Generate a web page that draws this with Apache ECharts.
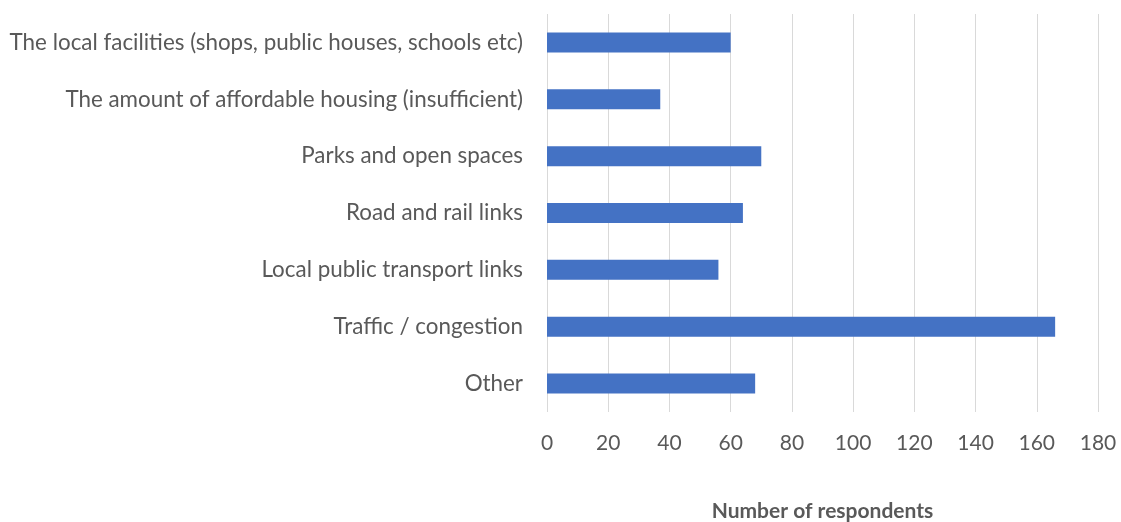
<!DOCTYPE html>
<html>
<head>
<meta charset="utf-8">
<script src="https://cdn.jsdelivr.net/npm/echarts@6/dist/echarts.min.js"></script>
<style>
  html, body { margin: 0; padding: 0; background: #fff; }
  #chart { width: 1121px; height: 522px; }
</style>
</head>
<body>
<div id="chart"></div>
<script>
  var categories = [
    'The local facilities (shops, public houses, schools etc)',
    'The amount of affordable housing (insufficient)',
    'Parks and open spaces',
    'Road and rail links',
    'Local public transport links',
    'Traffic / congestion',
    'Other'
  ];
  var respondents = [60, 37, 70, 64, 56, 166, 68];
  var xTicks = { min: 0, max: 180, step: 20 };

  var chart = echarts.init(document.getElementById('chart'));

  var option = {
    animation: false,
    textStyle: { fontFamily: 'Lato, sans-serif' },
    grid: {
      left: 547,
      right: 23,
      top: 14,
      bottom: 110,
      outerBoundsMode: 'none'
    },
    xAxis: {
      type: 'value',
      min: xTicks.min,
      max: xTicks.max,
      interval: xTicks.step,
      name: 'Number of respondents',
      nameLocation: 'middle',
      nameGap: 89,
      nameTextStyle: {
        fontSize: 21,
        fontWeight: 'bold',
        color: '#595959'
      },
      axisLine: { show: false },
      axisTick: { show: false },
      axisLabel: {
        fontSize: 21,
        color: '#595959',
        margin: 21
      },
      splitLine: {
        lineStyle: { color: '#d9d9d9', width: 1 }
      }
    },
    yAxis: {
      type: 'category',
      data: categories,
      inverse: true,
      axisLine: { show: false },
      axisTick: { show: false },
      axisLabel: {
        fontSize: 22.4,
        color: '#595959',
        margin: 24
      }
    },
    series: [{
      name: 'Respondents',
      type: 'bar',
      data: respondents,
      barWidth: 20,
      itemStyle: { color: '#4472c4' }
    }]
  };

  chart.setOption(option);
</script>
</body>
</html>
